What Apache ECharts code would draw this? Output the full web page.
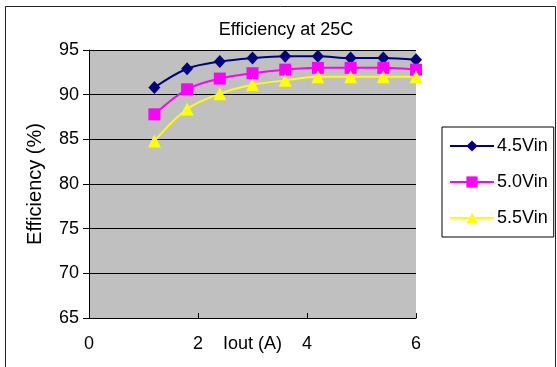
<!DOCTYPE html>
<html>
<head>
<meta charset="utf-8">
<script src="https://cdn.jsdelivr.net/npm/echarts@6/dist/echarts.min.js"></script>
<style>
  html, body { margin: 0; padding: 0; background: #fff; }
  #chart { width: 557px; height: 367px; }
</style>
</head>
<body>
<div id="chart"></div>
<script>
// load current (A)
var iout = [1.2, 1.8, 2.4, 3.0, 3.6, 4.2, 4.8, 5.4, 6.0];
var seriesNames = ['4.5Vin', '5.0Vin', '5.5Vin'];
var eff45 = [90.8, 92.9, 93.7, 94.1, 94.3, 94.3, 94.1, 94.1, 93.9];
var eff50 = [87.8, 90.6, 91.8, 92.4, 92.8, 93.0, 93.0, 93.0, 92.8];
var eff55 = [84.8, 88.4, 90.1, 91.1, 91.6, 92.0, 92.0, 92.0, 92.0];

var font = 'Liberation Sans, Arial, sans-serif';

function pairs(ys) {
    return iout.map(function (x, i) { return [x, ys[i]]; });
}

var chart = echarts.init(document.getElementById('chart'));
chart.setOption({
    animation: false,
    backgroundColor: '#fff',
    textStyle: { fontFamily: font, color: '#000' },
    title: {
        text: 'Efficiency at 25C',
        left: 286,
        top: 21,
        padding: 0,
        textAlign: 'center',
        textStyle: { fontSize: 18, fontWeight: 'normal', color: '#000', fontFamily: font }
    },
    graphic: [{
        type: 'rect',
        shape: { x: 5.5, y: 6.5, width: 550, height: 380 },
        style: { fill: 'none', stroke: '#222', lineWidth: 1 },
        silent: true
    }],
    legend: {
        orient: 'vertical',
        left: 442,
        top: 127,
        width: 114,
        padding: [10, 6, 10, 7],
        itemWidth: 44,
        itemHeight: 14,
        itemGap: 18,
        borderColor: '#000',
        borderWidth: 1,
        backgroundColor: '#fff',
        textStyle: { fontSize: 18, color: '#000', fontFamily: font, padding: [0, 0, 0, -2] },
        data: seriesNames
    },
    grid: {
        left: 89,
        right: 141,
        top: 50,
        bottom: 49,
        outerBoundsMode: 'none',
        show: true,
        backgroundColor: '#c0c0c0',
        borderWidth: 0
    },
    xAxis: {
        type: 'value',
        min: 0,
        max: 6,
        interval: 2,
        name: 'Iout (A)',
        nameLocation: 'middle',
        nameGap: 17,
        nameMoveOverlap: false,
        nameTextStyle: { fontSize: 18, color: '#000', fontFamily: font },
        axisLine: { show: true, onZero: false, lineStyle: { color: '#000', width: 1 } },
        axisTick: { show: true, inside: true, length: 5, lineStyle: { color: '#000' } },
        axisLabel: { fontSize: 18, color: '#000', margin: 17, fontFamily: font },
        splitLine: { show: false }
    },
    yAxis: {
        type: 'value',
        min: 65,
        max: 95,
        interval: 5,
        name: 'Efficiency (%)',
        nameLocation: 'middle',
        nameRotate: 90,
        nameGap: 44,
        nameMoveOverlap: false,
        nameTextStyle: { fontSize: 20, color: '#000', fontFamily: font },
        axisLine: { show: true, lineStyle: { color: '#000', width: 1 } },
        axisTick: { show: true, length: 6, lineStyle: { color: '#000' } },
        axisLabel: { fontSize: 18, color: '#000', margin: 10, fontFamily: font },
        splitLine: { show: true, lineStyle: { color: '#000', width: 1 } }
    },
    series: [{
        name: seriesNames[0],
        type: 'line',
        smooth: 0.35,
        data: pairs(eff45),
        symbol: 'diamond',
        symbolSize: [12, 13],
        lineStyle: { color: '#000080', width: 2 },
        itemStyle: { color: '#000080' }
    }, {
        name: seriesNames[1],
        type: 'line',
        smooth: 0.35,
        data: pairs(eff50),
        symbol: 'rect',
        symbolSize: 12,
        lineStyle: { color: '#ff00ff', width: 2 },
        itemStyle: { color: '#ff00ff' }
    }, {
        name: seriesNames[2],
        type: 'line',
        smooth: 0.35,
        data: pairs(eff55),
        symbol: 'triangle',
        symbolSize: 13,
        lineStyle: { color: '#ffff00', width: 2 },
        itemStyle: { color: '#ffff00' }
    }]
});
</script>
</body>
</html>
